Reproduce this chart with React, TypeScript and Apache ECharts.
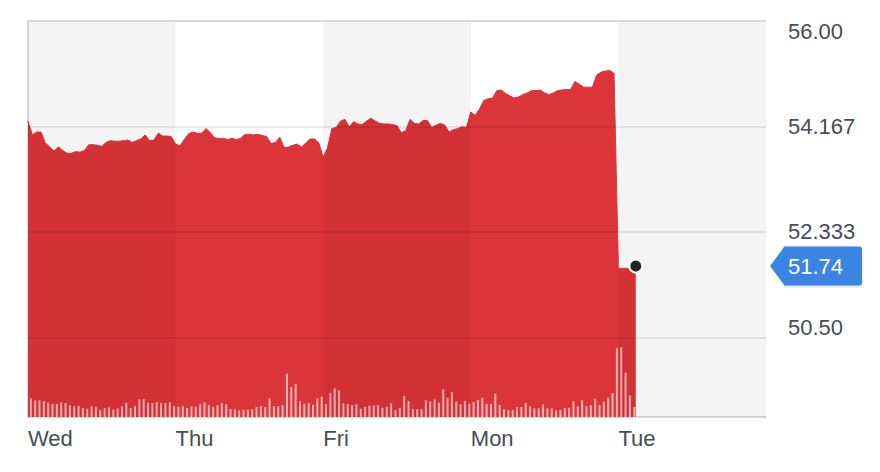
import React, { useEffect, useRef } from "react";
import * as echarts from "echarts";

const days = ["Wed", "Thu", "Fri", "Mon", "Tue"];
const slotsPerDay = 34;

const wedPrices = [54.26, 54.02, 54.07, 54.07, 53.88, 53.81, 53.74, 53.81, 53.75, 53.7, 53.7, 53.73, 53.72, 53.75, 53.85, 53.85, 53.84, 53.82, 53.89, 53.92, 53.91, 53.91, 53.92, 53.93, 53.89, 53.92, 53.95, 54.02, 53.92, 53.93, 54.05, 54.0, 54.0, 53.99];
const thuPrices = [53.86, 53.83, 53.94, 54.04, 54.07, 54.05, 54.05, 54.13, 54.06, 53.97, 53.96, 53.96, 53.94, 53.96, 53.94, 53.96, 54.03, 54.03, 54.02, 54.03, 54.01, 53.99, 53.87, 53.89, 53.98, 53.8, 53.81, 53.84, 53.86, 53.81, 53.88, 53.95, 53.95, 53.88];
const friPrices = [53.63, 53.8, 54.13, 54.15, 54.26, 54.29, 54.16, 54.25, 54.21, 54.2, 54.26, 54.31, 54.26, 54.22, 54.21, 54.21, 54.2, 54.18, 54.06, 54.09, 54.29, 54.22, 54.21, 54.27, 54.27, 54.15, 54.19, 54.22, 54.19, 54.07, 54.11, 54.13, 54.16, 54.15];
const monPrices = [54.42, 54.36, 54.47, 54.62, 54.65, 54.66, 54.79, 54.8, 54.74, 54.7, 54.66, 54.68, 54.72, 54.75, 54.79, 54.79, 54.8, 54.75, 54.72, 54.75, 54.79, 54.8, 54.81, 54.81, 54.95, 54.9, 54.85, 54.85, 54.85, 55.06, 55.11, 55.13, 55.14, 55.09];
const tuePrices = [51.7, 51.7, 51.7, 51.7, 51.74];

const wedVolumes = [187, 167, 167, 160, 143, 130, 130, 147, 140, 117, 107, 110, 90, 83, 107, 100, 70, 90, 97, 73, 87, 107, 143, 90, 110, 177, 180, 143, 140, 150, 140, 140, 147, 110];
const thuVolumes = [100, 107, 90, 107, 103, 127, 147, 120, 100, 117, 140, 127, 77, 77, 67, 73, 73, 77, 100, 110, 100, 187, 107, 107, 117, 433, 300, 333, 157, 133, 140, 120, 187, 203];
const friVolumes = [130, 240, 287, 267, 137, 130, 120, 130, 83, 100, 113, 117, 120, 93, 103, 137, 70, 90, 210, 160, 80, 80, 80, 167, 157, 177, 143, 277, 193, 250, 153, 127, 160, 133];
const monVolumes = [150, 170, 193, 130, 130, 233, 120, 80, 70, 70, 100, 100, 140, 107, 87, 87, 127, 87, 87, 67, 70, 90, 93, 157, 107, 167, 107, 120, 183, 120, 153, 193, 240, 690];
const tueVolumes = [700, 443, 217, 100];

const yMin = 49.1167;
const yMax = 56;
const yTickValues = [50.5, 52.3333, 54.1667, 56];
const yTickLabels = ["50.50", "52.333", "54.167", "56.00"];
const volumeMax = 3970;

const RED = "#dc3539";
const TEXT = "#464d55";
const BORDER = "#d5d8de";
const BLUE = "#3a84e4";

export default function App() {
  const ref = useRef<HTMLDivElement>(null);

  useEffect(() => {
    if (!ref.current) return;
    const chart = echarts.init(ref.current, null, { renderer: "svg" });

    const prices = [...wedPrices, ...thuPrices, ...friPrices, ...monPrices, ...tuePrices];
    const volumes = [...wedVolumes, ...thuVolumes, ...friVolumes, ...monVolumes, ...tueVolumes];
    const priceData = prices.map((p, i) => [i, p]);
    const volData = volumes.map((v, i) => [i + 0.65, v]);
    const totalSlots = days.length * slotsPerDay;
    const lastIdx = prices.length - 1;
    const last = prices[lastIdx];

    const bands = days
      .map((_, d) => d)
      .filter((d) => d % 2 === 0)
      .map((d) => [{ xAxis: d * slotsPerDay }, { xAxis: (d + 1) * slotsPerDay }]);

    const yLabel = (v: number) => {
      const idx = yTickValues.findIndex((t) => Math.abs(t - v) < 0.001);
      if (idx < 0) return "";
      const s = yTickLabels[idx];
      if (idx === yTickValues.length - 1) return "\n" + s;
      if (idx === 0) return s + "\n";
      return s;
    };

    chart.setOption({
      animation: false,
      textStyle: { fontFamily: "'Liberation Sans', Arial, Helvetica, sans-serif" },
      grid: { left: 28, right: 114, top: 20, bottom: 55 },
      xAxis: {
        type: "value",
        min: 0,
        max: totalSlots,
        interval: slotsPerDay,
        axisLine: { show: true, lineStyle: { color: BORDER, width: 2 } },
        axisTick: { show: false },
        splitLine: { show: false },
        axisLabel: {
          formatter: (v: number) => days[Math.round(v / slotsPerDay)] ?? "",
          align: "left",
          color: TEXT,
          fontSize: 22,
          margin: 10,
        },
      },
      yAxis: [
        {
          type: "value",
          position: "right",
          min: yMin,
          max: yMax,
          axisLine: { show: true, lineStyle: { color: BORDER, width: 2 } },
          axisTick: { show: false },
          splitLine: { show: false },
          axisLabel: {
            customValues: yTickValues,
            formatter: yLabel,
            color: TEXT,
            fontSize: 22,
            lineHeight: 20,
            margin: 22,
          },
        },
        { type: "value", min: 0, max: volumeMax, show: false },
      ],
      series: [
        {
          type: "line",
          data: priceData,
          showSymbol: false,
          z: 2,
          lineStyle: { color: RED, width: 1 },
          itemStyle: { color: RED },
          areaStyle: { color: RED, opacity: 1 },
          markPoint: {
            z: 8,
            silent: true,
            data: [
              {
                coord: [lastIdx, last],
                symbol: "circle",
                symbolSize: 13,
                itemStyle: { color: "#222222", borderColor: "#ffffff", borderWidth: 2 },
                label: { show: false },
              },
            ],
          },
        },
        {
          type: "bar",
          yAxisIndex: 1,
          data: volData,
          barWidth: 2,
          z: 3,
          itemStyle: { color: "rgba(255,255,255,0.62)" },
        },
        {
          type: "line",
          data: [],
          z: 4,
          markArea: {
            silent: true,
            z: 4,
            itemStyle: { color: "rgba(0,0,0,0.045)" },
            data: bands,
          },
          markLine: {
            silent: true,
            z: 5,
            symbol: ["none", "none"],
            label: { show: false },
            data: [
              ...yTickValues.slice(0, -1).map((v) => ({
                yAxis: v,
                lineStyle: { color: "rgba(0,0,0,0.08)", width: 2, type: "solid" },
              })),
              { yAxis: yMax, lineStyle: { color: "#cdcfdb", width: 1.5, type: "solid" } },
            ],
          },
        },
      ],
    });

    // Last-price tag on the right axis, positioned through the axis scales
    const ty = chart.convertToPixel({ yAxisIndex: 0 }, last) as number;
    const tx = chart.convertToPixel({ xAxisIndex: 0 }, totalSlots) as number;
    const tip = tx + 4;
    const boxL = tx + 18;
    const boxW = 78;
    const half = 19.5;
    chart.setOption({
      graphic: [
        {
          type: "group",
          z: 100,
          silent: true,
          children: [
            {
              type: "rect",
              shape: { x: boxL, y: ty - half, width: boxW, height: half * 2, r: [0, 3, 3, 0] },
              style: { fill: BLUE, shadowColor: "rgba(0,0,0,0.2)", shadowBlur: 2, shadowOffsetY: 1 },
            },
            {
              type: "polygon",
              shape: { points: [[tip, ty], [boxL + 0.5, ty - half], [boxL + 0.5, ty + half]] },
              style: { fill: BLUE },
            },
            {
              type: "text",
              x: boxL + 4,
              y: ty,
              style: {
                text: last.toFixed(2),
                fill: "#ffffff",
                fontSize: 22,
                fontFamily: "'Liberation Sans', Arial, Helvetica, sans-serif",
                verticalAlign: "middle",
                align: "left",
              },
            },
          ],
        },
      ],
    });

    return () => chart.dispose();
  }, []);

  return (
    <div
      ref={ref}
      style={{ position: "absolute", left: 0, top: 0, width: 880, height: 472 }}
    />
  );
}
